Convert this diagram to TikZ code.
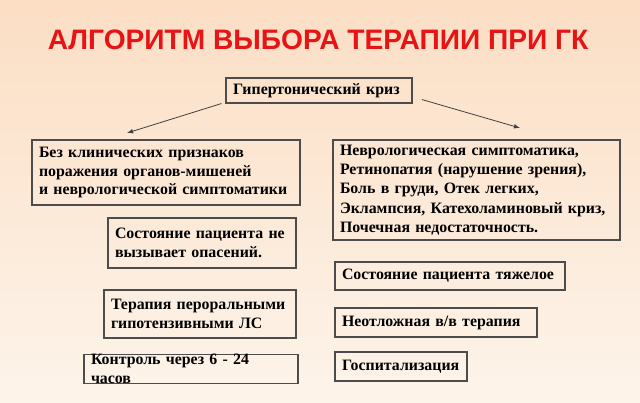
\documentclass[tikz,border=0pt]{standalone}
\usepackage{fontspec}
\setmainfont{Liberation Serif}
\newfontfamily\titlefont{Liberation Sans}
\begin{document}
\begin{tikzpicture}[x=0.75pt,y=-0.75pt,
  bx/.style={draw=black!70,line width=0.8pt,align=left,font=\bfseries\fontsize{11.9}{13.8}\selectfont,inner sep=0pt,anchor=center},
  arr/.style={-latex,draw=black!75,line width=0.6pt}]
\shade[top color={rgb,255:red,251;green,222;blue,196},bottom color={rgb,255:red,253;green,244;blue,234}] (0,0) rectangle (640,403);
\useasboundingbox (0,0) rectangle (640,403);
\node[font=\titlefont\bfseries\fontsize{21.1}{24}\selectfont,text={rgb,255:red,230;green,20;blue,20}] (title) at (318,40) {АЛГОРИТМ ВЫБОРА ТЕРАПИИ ПРИ ГК};
\newcommand\mybox[6]{\node[bx,minimum width=(#3-#2)*0.75pt,minimum height=(#5-#4)*0.75pt,text width=(#3-#2-14)*0.75pt] (#1) at ({(#2+#3)/2},{(#4+#5)/2}) {#6};}
\mybox{top}{226}{412}{78}{103}{Гипертонический криз}
\mybox{l1}{32}{300}{140}{205}{Без клинических признаков\\поражения органов-мишеней\\и неврологической симптоматики}
\mybox{l2}{108}{296}{218}{268}{Состояние пациента не\\вызывает опасений.}
\mybox{l3}{104}{296}{290}{338}{Терапия пероральными\\гипотензивными ЛС}
\mybox{l4}{84}{298}{355}{383}{Контроль через 6 - 24 часов}
\node[bx,minimum width=287*0.75pt,minimum height=100*0.75pt,text width=273*0.75pt,font=\bfseries\fontsize{11.9}{14.5}\selectfont] (r1) at (476.5,190) {Неврологическая симптоматика,\\Ретинопатия (нарушение зрения),\\Боль в груди, Отек легких,\\Эклампсия, Катехоламиновый криз,\\Почечная недостаточность.};
\mybox{r2}{335}{565}{262}{290}{Состояние пациента тяжелое}
\mybox{r3}{335}{537}{308}{337}{Неотложная в/в терапия}
\mybox{r4}{335}{467}{352}{381}{Госпитализация}
\coordinate (a1) at (127,133);
\coordinate (a2) at (520,128);
\draw[arr] ([xshift=-3pt]top.south west) -- (a1);
\draw[arr] ([xshift=7pt,yshift=3pt]top.south east) -- (a2);
\end{tikzpicture}
\end{document}
